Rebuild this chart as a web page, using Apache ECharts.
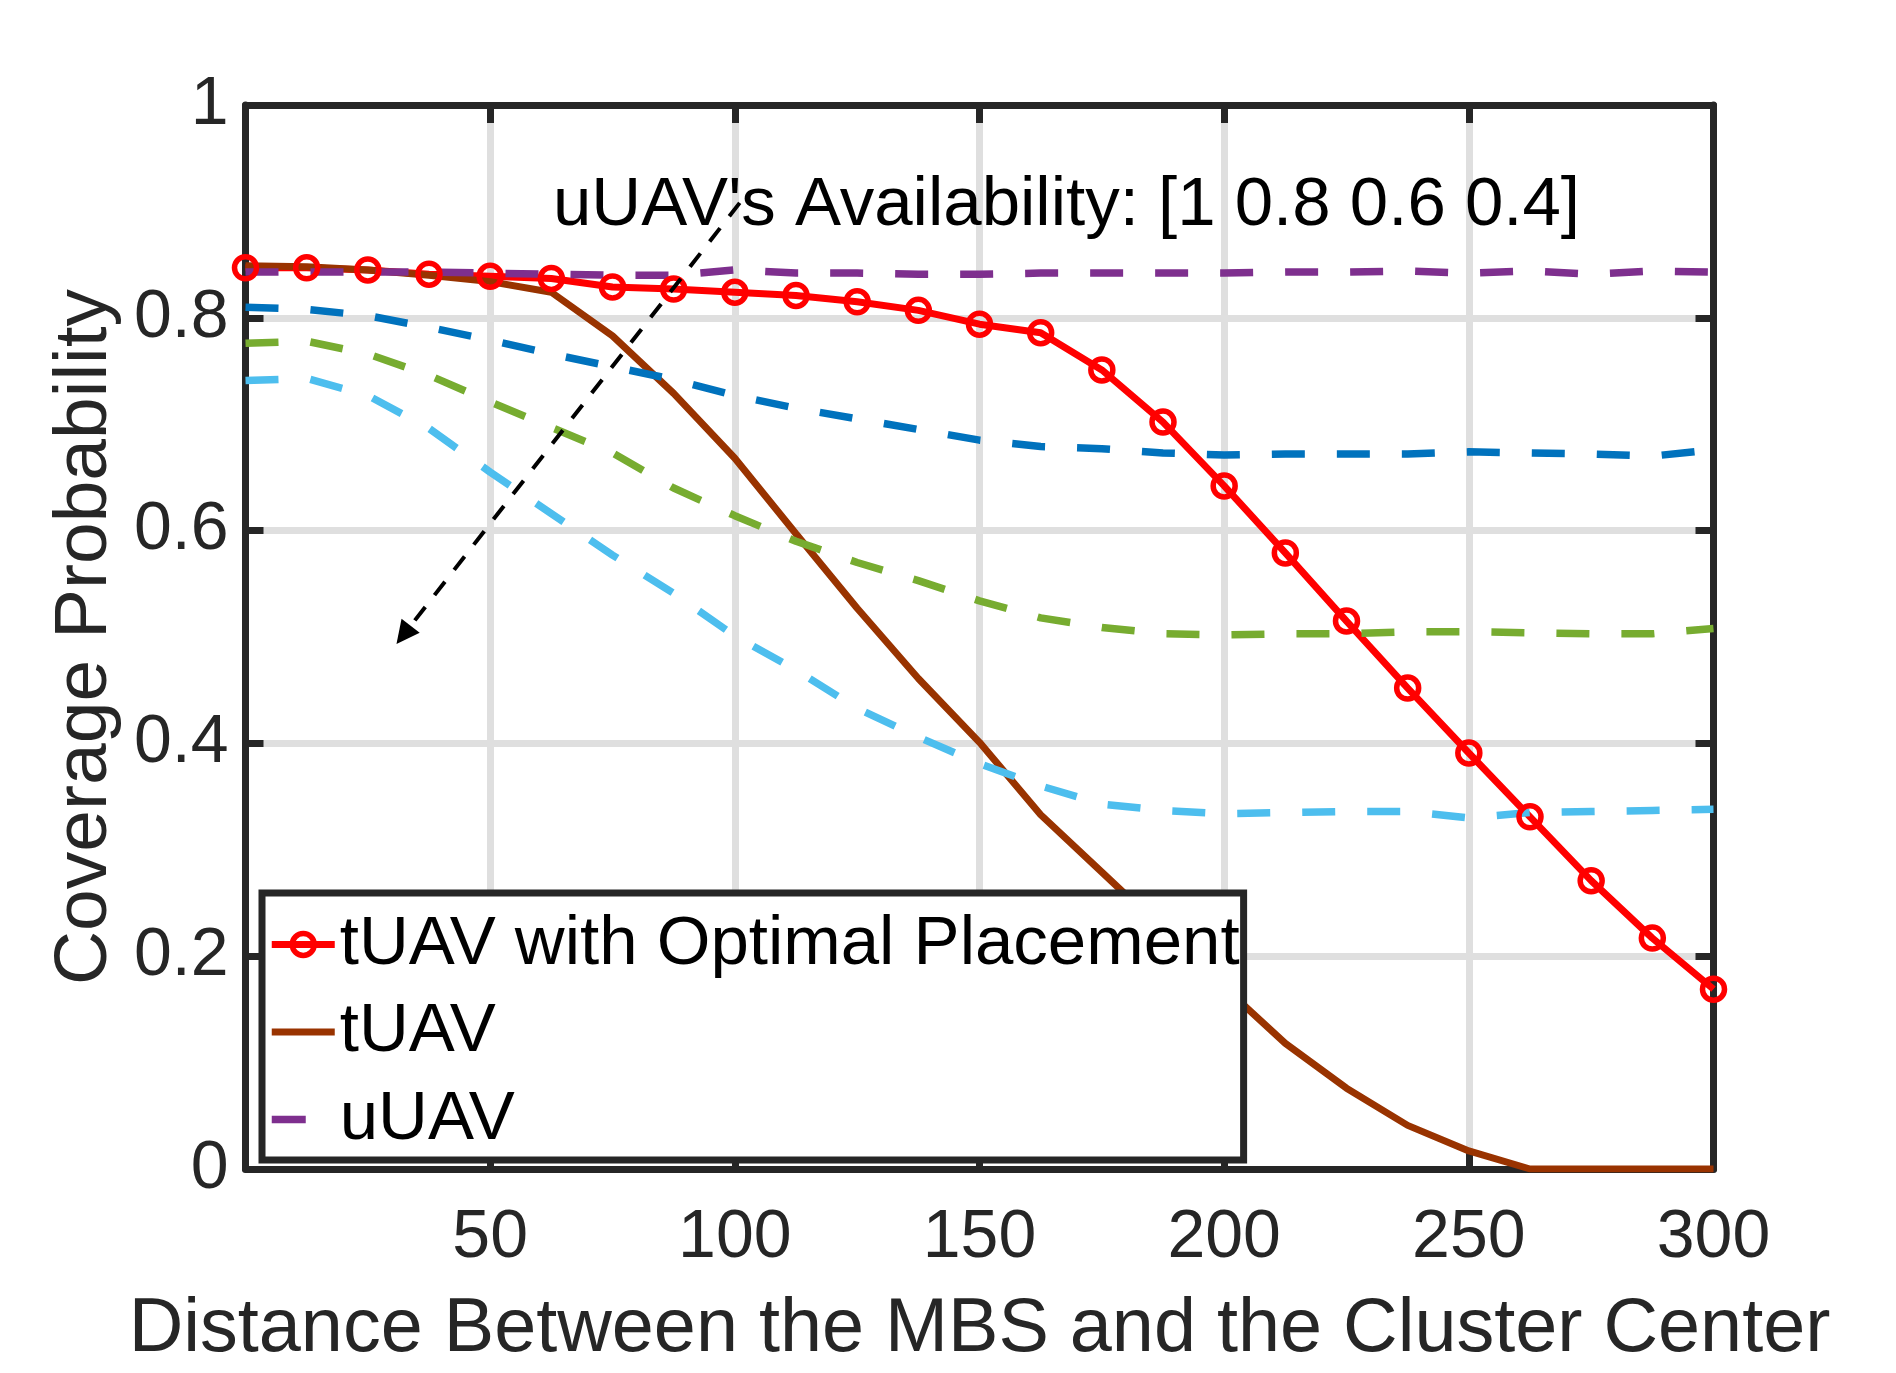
<!DOCTYPE html>
<html>
<head>
<meta charset="utf-8">
<script src="https://cdn.jsdelivr.net/npm/echarts@6/dist/echarts.min.js"></script>
<style>
  html, body { margin: 0; padding: 0; background: #fff; }
  #chart { width: 1896px; height: 1373px; }
</style>
</head>
<body>
<div id="chart"></div>
<script>
// ---- data ----
const distance = [0, 12.5, 25, 37.5, 50, 62.5, 75, 87.5, 100, 112.5, 125, 137.5, 150,
                  162.5, 175, 187.5, 200, 212.5, 225, 237.5, 250, 262.5, 275, 287.5, 300];

const tUavOptimal = [0.847, 0.847, 0.845, 0.841, 0.839, 0.837, 0.829, 0.827, 0.824, 0.821, 0.815, 0.807, 0.794,
                     0.786, 0.751, 0.702, 0.642, 0.579, 0.515, 0.452, 0.391, 0.331, 0.271, 0.217, 0.169];

const tUav = [0.849, 0.848, 0.845, 0.840, 0.834, 0.824, 0.783, 0.729, 0.668, 0.597, 0.527, 0.461, 0.401,
              0.333, 0.279, 0.225, 0.171, 0.118, 0.076, 0.041, 0.017, 0.000, 0.000, 0.000, 0.000];

const uUav10 = [0.843, 0.843, 0.843, 0.843, 0.842, 0.841, 0.840, 0.840, 0.845, 0.842, 0.842, 0.841, 0.841,
                0.842, 0.842, 0.842, 0.842, 0.843, 0.843, 0.844, 0.842, 0.844, 0.841, 0.844, 0.843];

const uUav08 = [0.810, 0.808, 0.802, 0.791, 0.779, 0.766, 0.754, 0.742, 0.727, 0.715, 0.705, 0.695, 0.685,
                0.679, 0.677, 0.673, 0.671, 0.672, 0.672, 0.672, 0.674, 0.673, 0.672, 0.670, 0.676];

const uUav06 = [0.776, 0.778, 0.766, 0.746, 0.721, 0.697, 0.673, 0.640, 0.614, 0.590, 0.570, 0.553, 0.534,
                0.518, 0.509, 0.503, 0.502, 0.503, 0.503, 0.505, 0.505, 0.504, 0.503, 0.503, 0.508];

const uUav04 = [0.741, 0.743, 0.727, 0.696, 0.655, 0.616, 0.577, 0.541, 0.501, 0.469, 0.433, 0.406, 0.381,
                0.360, 0.343, 0.337, 0.334, 0.335, 0.336, 0.336, 0.330, 0.335, 0.336, 0.337, 0.338];

const seriesNames = ['tUAV with Optimal Placement', 'tUAV', 'uUAV', 'uUAV 0.8', 'uUAV 0.6', 'uUAV 0.4'];
const annotationText = "uUAV's Availability: [1 0.8 0.6 0.4]";
const arrowStart = [101.0, 0.908];
const arrowEnd = [32.3, 0.502];
const xTitle = 'Distance Between the MBS and the Cluster Center';
const yTitle = 'Coverage Probability';

// ---- chart ----
const FONT = 'Liberation Sans, Arial, Helvetica, sans-serif';
const AX = '#262626';
const pairs = ys => distance.map((x, i) => [x, ys[i]]);
const dash = [33, 32];

const chart = echarts.init(document.getElementById('chart'), null, { renderer: 'canvas' });

const option = {
  animation: false,
  backgroundColor: '#ffffff',
  grid: { left: 245.5, right: 182.5, top: 105, bottom: 200, containLabel: false },
  xAxis: [{
    type: 'value', min: 0, max: 300, interval: 50, position: 'bottom',
    name: xTitle, nameLocation: 'middle', nameGap: 123,
    nameTextStyle: { fontSize: 75.6, fontFamily: FONT, color: AX },
    axisLine: { show: true, onZero: false, lineStyle: { color: AX, width: 7 } },
    axisTick: { show: true, inside: true, length: 18, lineStyle: { color: AX, width: 7 } },
    axisLabel: { fontSize: 68, fontFamily: FONT, color: AX, margin: 35,
                 formatter: v => (v === 0 ? '' : String(v)) },
    splitLine: { show: true, lineStyle: { color: '#dfdfdf', width: 7 } }
  }, {
    type: 'value', min: 0, max: 300, interval: 50, position: 'top',
    axisLine: { show: true, onZero: false, lineStyle: { color: AX, width: 7 } },
    axisTick: { show: true, inside: true, length: 18, lineStyle: { color: AX, width: 7 } },
    axisLabel: { show: false }, splitLine: { show: false }
  }],
  yAxis: [{
    type: 'value', min: 0, max: 1, interval: 0.2, position: 'left',
    name: yTitle, nameLocation: 'middle', nameGap: 123,
    nameTextStyle: { fontSize: 75, fontFamily: FONT, color: AX },
    axisLine: { show: true, onZero: false, lineStyle: { color: AX, width: 7 } },
    axisTick: { show: true, inside: true, length: 18, lineStyle: { color: AX, width: 7 } },
    axisLabel: { fontSize: 68, fontFamily: FONT, color: AX, margin: 17 },
    splitLine: { show: true, lineStyle: { color: '#dfdfdf', width: 7 } }
  }, {
    type: 'value', min: 0, max: 1, interval: 0.2, position: 'right',
    axisLine: { show: true, onZero: false, lineStyle: { color: AX, width: 7 } },
    axisTick: { show: true, inside: true, length: 18, lineStyle: { color: AX, width: 7 } },
    axisLabel: { show: false }, splitLine: { show: false }
  }],
  legend: {
    orient: 'vertical', left: 262, top: 893,
    itemWidth: 63, itemHeight: 27.5, itemGap: 18.5,
    padding: [17, 4, 6, 6],
    borderColor: AX, borderWidth: 7, backgroundColor: '#ffffff',
    textStyle: { fontSize: 69, fontFamily: FONT, color: '#000000' },
    data: [
      { name: seriesNames[0],
        itemStyle: { color: 'transparent', borderColor: '#ff0000', borderWidth: 5.5 },
        lineStyle: { color: '#ff0000', width: 7 } },
      { name: seriesNames[1], itemStyle: { opacity: 0 }, lineStyle: { color: '#993300', width: 7 } },
      { name: seriesNames[2], itemStyle: { opacity: 0 }, lineStyle: { color: '#7e2f8e', width: 7.5, type: [34, 60] } }
    ]
  },
  graphic: [{
    type: 'text', x: 553, y: 206, z: 10,
    style: { text: annotationText, fontSize: 69, fontFamily: FONT, fill: '#000000',
             align: 'left', verticalAlign: 'middle' }
  }],
  series: [
    { name: seriesNames[0], type: 'line', data: pairs(tUavOptimal),
      symbol: 'circle', symbolSize: 22, showAllSymbol: true,
      itemStyle: { color: 'transparent', borderColor: '#ff0000', borderWidth: 5.5 },
      lineStyle: { color: '#ff0000', width: 7 }, color: '#ff0000' },
    { name: seriesNames[1], type: 'line', data: pairs(tUav), symbol: 'none',
      lineStyle: { color: '#993300', width: 7 }, color: '#993300' },
    { name: seriesNames[2], type: 'line', data: pairs(uUav10), symbol: 'none',
      lineStyle: { color: '#7e2f8e', width: 7.5, type: dash }, color: '#7e2f8e' },
    { name: seriesNames[3], type: 'line', data: pairs(uUav08), symbol: 'none',
      lineStyle: { color: '#0072bd', width: 7.5, type: dash }, color: '#0072bd' },
    { name: seriesNames[4], type: 'line', data: pairs(uUav06), symbol: 'none',
      lineStyle: { color: '#77ac30', width: 7.5, type: dash }, color: '#77ac30' },
    { name: seriesNames[5], type: 'line', data: pairs(uUav04), symbol: 'none',
      lineStyle: { color: '#4dbeee', width: 7.5, type: dash }, color: '#4dbeee',
      markLine: {
        silent: true, symbol: ['none', 'triangle'], symbolSize: 23,
        label: { show: false },
        lineStyle: { color: '#000000', width: 4, type: [17, 15] },
        itemStyle: { color: '#000000' },
        emphasis: { disabled: true },
        data: [[ { coord: arrowStart }, { coord: arrowEnd } ]]
      } }
  ]
};
chart.setOption(option);
</script>
</body>
</html>
